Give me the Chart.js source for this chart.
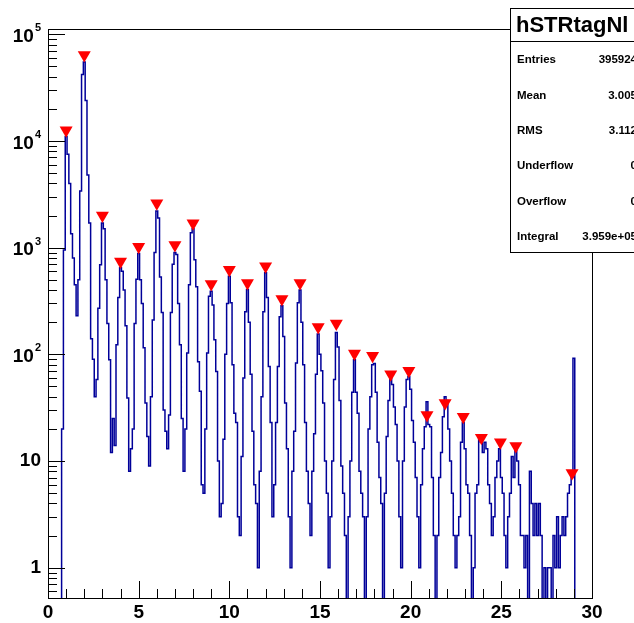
<!DOCTYPE html>
<html>
<head>
<meta charset="utf-8">
<script src="https://cdn.jsdelivr.net/npm/chart.js@4.4.0/dist/chart.umd.min.js"></script>
<style>
  html, body { margin: 0; padding: 0; background: #fff; }
  #wrap { width: 634px; height: 623px; }
</style>
</head>
<body>
<div id="wrap"><canvas id="out" width="634" height="623"></canvas></div>
<script>
// bin contents, bin width 0.1, bin centres 0.0 .. 29.9
const binWidth = 0.1;
const counts0to10 = [
  0, 0, 0, 0, 0, 0, 0, 0, 20, 950,
  11000, 7500, 4000, 1350, 800, 450, 230, 500, 3400, 42000,
  55000, 24000, 4800, 1700, 140, 90, 40, 58, 270, 690,
  1700, 1500, 500, 195, 89, 12, 25, 14, 123, 340,
  650, 600, 400, 185, 39, 8, 13, 20, 195, 505,
  880, 500, 300, 115, 35, 17, 9, 40, 210, 900,
  2200, 1900, 530, 246, 30, 19, 13, 27, 246, 700,
  900, 860, 300, 123, 25, 8, 20, 103, 450, 1380,
  1500, 770, 430, 85, 45, 6, 5, 20, 103, 350,
  390, 290, 137, 69, 10, 3, 4, 16, 100, 300
];
const counts10to20 = [
  540, 305, 80, 28, 23, 3, 2, 11, 60, 250,
  405, 200, 65, 19, 6, 4, 1, 8, 40, 250,
  580, 340, 77, 23, 3, 6, 23, 77, 225, 285,
  147, 35, 13, 3, 1, 8, 19, 83, 305, 400,
  200, 80, 23, 8, 4, 2, 8, 18, 65, 155,
  100, 70, 35, 10, 5, 1, 3, 10, 58, 160,
  117, 37, 9, 5, 2, 0, 3, 10, 44, 89,
  44, 28, 8, 5, 3, 0, 3, 20, 40, 80,
  82, 44, 15, 7, 4, 0, 5, 17, 37, 60,
  52, 32, 22, 10, 3, 1, 10, 32, 58, 62
];
const counts20to30 = [
  47, 24, 15, 7, 3, 1, 6, 13, 21, 36,
  22, 21, 7, 2, 0, 2, 7, 12, 26, 40,
  37, 20, 10, 5, 2, 1, 2, 3, 15, 23,
  13, 6, 5, 2, 0, 1, 5, 6, 16, 15,
  12, 15, 13, 6, 4, 2, 3, 7, 10, 13,
  7, 5, 2, 1, 3, 5, 11, 7, 13, 10,
  6, 2, 2, 1, 2, 0, 8, 4, 2, 4,
  2, 4, 2, 0, 1, 0, 1, 1, 0, 2,
  1, 3, 1, 2, 3, 2, 3, 5, 6, 7,
  92, 0, 0, 0, 0, 0, 0, 0, 0, 0
];

// peaks found (red markers)
const peakX = [1, 2, 3, 4, 5, 6, 7, 8, 9, 10, 11, 12, 12.9, 13.9, 14.9, 15.9, 16.9, 17.9,
  18.9, 19.9, 20.9, 21.9, 22.9, 23.9, 24.95, 25.8, 28.9];
const peakY = [12600, 64000, 2000, 740, 1020, 2600, 1060, 1690, 455, 620, 465, 670, 330, 465,
  180, 195, 102, 97, 65, 70, 27, 35, 26, 16.5, 15, 13.8, 7.7];

// axes
const xTicks = [0, 5, 10, 15, 20, 25, 30];
const yLabels = [["1", ""], ["10", ""], ["10", "2"], ["10", "3"], ["10", "4"], ["10", "5"]];

// stats box
const statsTitle = "hSTRtagNl";
const statsNames = ["Entries", "Mean", "RMS", "Underflow", "Overflow", "Integral"];
const statsValues = ["395924", "3.005", "3.112", "0", "0", "3.959e+05"];

const FONT = '"Liberation Sans", Arial, Helvetica, sans-serif';

const counts = counts0to10.concat(counts10to20, counts20to30);
const histPoints = counts.map((c, i) => ({ x: Math.round(i * binWidth * 10) / 10, y: c > 0 ? c : 0.1 }));
const peakPoints = peakX.map((x, i) => ({ x: x, y: peakY[i] }));

const rootFrame = {
  id: "rootFrame",
  afterDraw(chart) {
    const ctx = chart.ctx;
    const a = chart.chartArea;
    const xs = chart.scales.x, ys = chart.scales.y;
    ctx.save();
    ctx.strokeStyle = "#000";
    ctx.lineWidth = 1;
    ctx.strokeRect(a.left + 0.5, a.top + 0.5, a.right - a.left, a.bottom - a.top);

    // x ticks
    ctx.beginPath();
    for (let v = 0; v <= 30; v++) {
      const px = Math.round(xs.getPixelForValue(v)) + 0.5;
      const len = v % 5 === 0 ? 17 : 9;
      ctx.moveTo(px, a.bottom);
      ctx.lineTo(px, a.bottom - len);
    }
    // y ticks
    for (let d = -1; d <= 5; d++) {
      for (let m = 1; m <= 9; m++) {
        const v = m * Math.pow(10, d);
        if (v < ys.min || v > ys.max) continue;
        const py = Math.round(ys.getPixelForValue(v)) + 0.5;
        const len = m === 1 ? 17 : 9;
        ctx.moveTo(a.left, py);
        ctx.lineTo(a.left + len, py);
      }
    }
    ctx.stroke();

    // x labels
    ctx.fillStyle = "#000";
    ctx.font = "bold 19px " + FONT;
    ctx.textAlign = "center";
    ctx.textBaseline = "middle";
    xTicks.forEach(v => ctx.fillText(String(v), xs.getPixelForValue(v), a.bottom + 15));

    // y labels
    yLabels.forEach((lab, d) => {
      const py = ys.getPixelForValue(Math.pow(10, d));
      const right = 41;
      ctx.font = "bold 11px " + FONT;
      const wExp = lab[1] ? ctx.measureText(lab[1]).width + 1 : 0;
      ctx.font = "bold 19px " + FONT;
      ctx.textAlign = "right";
      ctx.textBaseline = "middle";
      ctx.fillText(lab[0], right - wExp, py + (lab[1] ? 2.5 : 0));
      if (lab[1]) {
        ctx.font = "bold 11px " + FONT;
        ctx.textAlign = "left";
        ctx.fillText(lab[1], right - wExp + 1, py - 6);
      }
    });

    // stats box
    const bx = 510, by = 8, bw = 140, bh = 244;
    ctx.fillStyle = "#fff";
    ctx.fillRect(bx, by, bw, bh);
    ctx.strokeRect(bx + 0.5, by + 0.5, bw, bh);
    ctx.beginPath();
    ctx.moveTo(bx, 41.5);
    ctx.lineTo(bx + bw, 41.5);
    ctx.stroke();
    ctx.fillStyle = "#000";
    ctx.font = "bold 22px " + FONT;
    ctx.textAlign = "left";
    ctx.textBaseline = "alphabetic";
    ctx.fillText(statsTitle, 516, 32);
    ctx.font = "bold 11.5px " + FONT;
    statsNames.forEach((n, i) => {
      const yc = 60 + i * 35.4;
      ctx.textBaseline = "middle";
      ctx.textAlign = "left";
      ctx.fillText(n, 517, yc);
      ctx.textAlign = "right";
      ctx.fillText(statsValues[i], 637, yc);
    });
    ctx.restore();
  }
};

new Chart(document.getElementById("out").getContext("2d"), {
  type: "line",
  data: {
    datasets: [
      {
        label: "peaks",
        data: peakPoints,
        showLine: false,
        pointStyle: "triangle",
        pointRotation: 180,
        pointRadius: 7.5,
        pointBackgroundColor: "#ff0000",
        pointBorderWidth: 0,
        order: 0
      },
      {
        label: "hSTRtagN",
        data: histPoints,
        stepped: "middle",
        borderColor: "#000099",
        borderWidth: 1.5,
        pointRadius: 0,
        fill: false,
        order: 1
      }
    ]
  },
  plugins: [rootFrame],
  options: {
    responsive: false,
    animation: false,
    devicePixelRatio: 1,
    events: [],
    layout: { padding: { left: 48, right: 42, top: 29, bottom: 25 } },
    plugins: { legend: { display: false }, tooltip: { enabled: false } },
    scales: {
      x: { type: "linear", min: 0, max: 30, display: false },
      y: { type: "logarithmic", min: 0.52, max: 112000, display: false }
    }
  }
});
</script>
</body>
</html>
